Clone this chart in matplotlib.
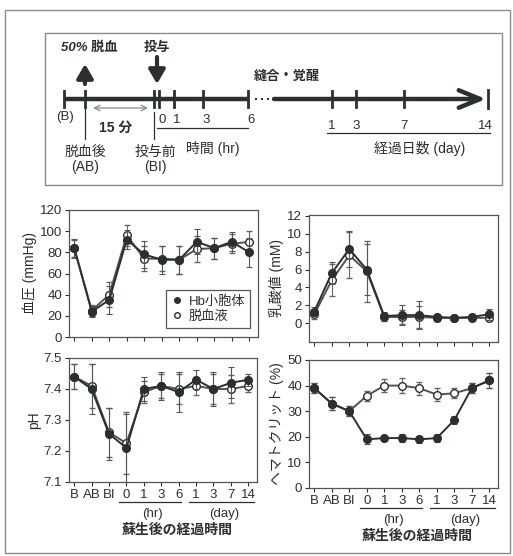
import matplotlib
matplotlib.use('Agg')
import matplotlib.pyplot as plt
from matplotlib.patches import Rectangle
from matplotlib.lines import Line2D
from matplotlib.transforms import blended_transform_factory, offset_copy
import numpy as np

plt.rcParams['font.family'] = ['Liberation Sans', 'Noto Sans CJK JP']
INK = '#2b302c'
LINE = '#4d5550'
GRID = '#8a8a8a'

# ---- 時系列データ ----
x_labels = ['B', 'AB', 'BI', '0', '1', '3', '6', '1', '3', '7', '14']
hr_idx = [3, 4, 5, 6]
day_idx = [7, 8, 9, 10]

bp_hb = [84, 24, 35, 92, 78, 73, 73, 90, 84, 90, 80]
bp_hb_err = [9, 5, 13, 9, 13, 13, 13, 12, 10, 9, 14]
bp_ctl = [84, 25, 40, 96, 74, 74, 73, 83, 84, 88, 90]
bp_ctl_err = [8, 5, 12, 10, 12, 12, 13, 12, 10, 9, 10]

lac_hb = [1.3, 5.6, 8.3, 6.0, 0.8, 0.9, 0.9, 0.7, 0.6, 0.7, 1.0]
lac_hb_err = [0.5, 1.2, 2.0, 2.9, 0.4, 1.1, 1.6, 0.3, 0.2, 0.3, 0.6]
lac_ctl = [1.0, 4.8, 7.6, 5.8, 0.7, 0.7, 0.7, 0.6, 0.6, 0.6, 0.6]
lac_ctl_err = [0.5, 1.8, 2.6, 3.4, 0.4, 0.8, 1.2, 0.3, 0.2, 0.3, 0.4]

ph_hb = [7.44, 7.40, 7.255, 7.21, 7.40, 7.41, 7.39, 7.43, 7.40, 7.42, 7.43]
ph_hb_err = [0.04, 0.08, 0.085, 0.11, 0.04, 0.045, 0.065, 0.03, 0.055, 0.05, 0.02]
ph_ctl = [7.44, 7.41, 7.26, 7.225, 7.39, 7.41, 7.40, 7.41, 7.40, 7.40, 7.41]
ph_ctl_err = [0.04, 0.07, 0.08, 0.10, 0.035, 0.04, 0.05, 0.03, 0.05, 0.045, 0.02]

hct_hb = [39, 33, 30, 19, 19.5, 19.5, 19, 19.5, 26.5, 39, 42]
hct_hb_err = [2, 2.5, 2, 2, 1, 1.5, 1.5, 1.5, 1.5, 2, 3]
hct_ctl = [39, 33, 30, 36, 40, 40, 39, 36.5, 37, 39, 42]
hct_ctl_err = [2, 2.5, 2, 2, 2.5, 3, 2.5, 2.5, 2, 2, 3]

# ---- タイムライン ----
tl_hr = [0, 1, 3, 6]
tl_day = [1, 3, 7, 14]

W, H = 513, 556
fig = plt.figure(figsize=(W / 100, H / 100), dpi=100, facecolor='white')

# 背景用（ピクセル座標）
bg = fig.add_axes([0, 0, 1, 1])
bg.set_xlim(0, W); bg.set_ylim(H, 0); bg.axis('off')
bg.add_patch(Rectangle((5, 10), 505, 543, fill=False, ec=GRID, lw=1.0))
bg.add_patch(Rectangle((45, 33), 457, 152, fill=False, ec=GRID, lw=1.0))

TY = 99
def hr_x(h):
    return 159 + 14.8 * h
def day_x(d):
    return 332 + 12.0 * (d - 1)

x_B, x_AB, x_BI = 64, 85, 154
x_end = day_x(tl_day[-1])

bg.plot([x_B, hr_x(6) + 1], [TY, TY], color=INK, lw=3.2, solid_capstyle='butt')
for dx in [256, 262, 268]:
    bg.plot(dx, TY, 's', color=INK, ms=2.0, mew=0)
bg.annotate('', xy=(x_end - 2, TY), xytext=(274, TY),
            arrowprops=dict(arrowstyle='->,head_length=1.1,head_width=0.45',
                            lw=3.2, color=INK, mutation_scale=14, shrinkA=0, shrinkB=0))
for tx in [x_B, x_AB, x_BI] + [hr_x(h) for h in tl_hr] + [day_x(d) for d in tl_day[:-1]]:
    bg.plot([tx, tx], [TY - 8, TY + 8], color=INK, lw=2.0)
bg.plot([x_end, x_end], [TY - 9, TY + 9], color=INK, lw=2.0)

# 矢印（脱血・投与）
bg.annotate('', xy=(x_AB, 64), xytext=(x_AB, 84),
            arrowprops=dict(arrowstyle='-|>,head_length=0.6,head_width=0.35',
                            lw=3, color=INK, mutation_scale=14, shrinkA=0, shrinkB=0))
bg.annotate('', xy=(157, 84), xytext=(157, 57),
            arrowprops=dict(arrowstyle='-|>,head_length=0.6,head_width=0.35',
                            lw=3, color=INK, mutation_scale=14, shrinkA=0, shrinkB=0))
bg.text(61, 48, '50% 脱血', fontsize=9.5, fontweight='bold', style='italic',
        color=INK, ha='left', va='center')
bg.text(157, 48, '投与', fontsize=9.5, fontweight='bold', style='italic',
        color=INK, ha='center', va='center')
bg.text(287, 77, '縫合・覚醒', fontsize=9.5, fontweight='bold', style='italic',
        color=INK, ha='center', va='center')

bg.text(65, 117, '(B)', fontsize=9.5, color=INK, ha='center', va='center')
bg.plot([x_AB, x_AB], [108, 139], color=INK, lw=0.9)
bg.plot([x_BI, x_BI], [112, 139], color=INK, lw=0.9)
bg.annotate('', xy=(93, 108), xytext=(148, 108),
            arrowprops=dict(arrowstyle='<->', lw=0.9, color=GRID,
                            shrinkA=0, shrinkB=0))
bg.text(116, 128, '15 分', fontsize=10, fontweight='bold', color=INK,
        ha='center', va='center')
bg.text(x_AB, 152, '脱血後', fontsize=10, color=INK, ha='center', va='center')
bg.text(x_AB, 167, '(AB)', fontsize=10, color=INK, ha='center', va='center')
bg.text(x_BI + 1, 152, '投与前', fontsize=10, color=INK, ha='center', va='center')
bg.text(x_BI + 1, 167, '(BI)', fontsize=10, color=INK, ha='center', va='center')

for h in tl_hr:
    bg.text(hr_x(h) + 3, 120, str(h), fontsize=9.5, color=INK, ha='center', va='center')
bg.plot([157, hr_x(6)], [128, 128], color=INK, lw=0.9)
bg.text(213, 148, '時間 (hr)', fontsize=10, color=INK, ha='center', va='center')
for d in tl_day:
    bg.text(day_x(d) - (3 if d == 14 else 0), 126, str(d), fontsize=9.5,
            color=INK, ha='center', va='center')
bg.plot([327, 490], [133, 133], color=INK, lw=0.9)
bg.text(420, 148, '経過日数 (day)', fontsize=10, color=INK, ha='center', va='center')


# ---- グラフパネル ----
def panel(rect, hb, hb_err, ctl, ctl_err, ylim, yticks, ylabel, fmt, bottom=False):
    ax = fig.add_axes(rect)
    x = np.arange(len(x_labels))
    ax.errorbar(x, ctl, yerr=ctl_err, fmt='-o', color=LINE, lw=1.4, ms=5.5,
                mfc='white', mec=INK, mew=1.0, ecolor='#666', elinewidth=0.8,
                capsize=2, capthick=0.8, zorder=2)
    ax.errorbar(x, hb, yerr=hb_err, fmt='-o', color=INK, lw=1.4, ms=5.5,
                mfc=INK, mec=INK, ecolor='#555', elinewidth=0.8,
                capsize=2, capthick=0.8, zorder=3)
    ax.set_xlim(-0.3, 10.5)
    ax.set_ylim(*ylim)
    ax.set_yticks(yticks)
    ax.set_yticklabels([fmt.format(v) for v in yticks])
    ax.set_xticks(x)
    ax.set_ylabel(ylabel, fontsize=10, color=INK, labelpad=2)
    ax.tick_params(direction='out', length=3, width=0.8, colors=INK,
                   labelsize=9.5, pad=2)
    for s in ax.spines.values():
        s.set_color('#555'); s.set_linewidth(0.9)
    if bottom:
        ax.set_xticklabels(x_labels)
        tr = blended_transform_factory(ax.transData, ax.transAxes)
        ul = offset_copy(tr, fig=fig, y=-20, units='dots')
        ax.plot([hr_idx[0] - 0.4, hr_idx[-1] + 0.15], [0, 0], transform=ul,
                color=INK, lw=0.9, clip_on=False)
        ax.plot([day_idx[0] - 0.4, day_idx[-1] + 0.3], [0, 0], transform=ul,
                color=INK, lw=0.9, clip_on=False)
        pt = offset_copy(tr, fig=fig, y=-32, units='dots')
        ax.text(np.mean(hr_idx), 0, '(hr)', transform=pt, fontsize=9.5,
                color=INK, ha='center', va='center')
        ax.text(8.6, 0, '(day)', transform=pt, fontsize=9.5,
                color=INK, ha='center', va='center')
        lt = offset_copy(tr, fig=fig, y=-48, units='dots')
        ax.text(5.9, 0, '蘇生後の経過時間', transform=lt, fontsize=10,
                fontweight='bold', color=INK, ha='center', va='center')
    else:
        ax.set_xticklabels([])
    return ax


ax_bp = panel([69 / W, 1 - 337 / H, 189 / W, 127 / H], bp_hb, bp_hb_err, bp_ctl,
              bp_ctl_err, (0, 120), [0, 20, 40, 60, 80, 100, 120], '血圧 (mmHg)', '{:.0f}')
ax_lac = panel([309 / W, 1 - 342 / H, 189 / W, 127 / H], lac_hb, lac_hb_err, lac_ctl,
               lac_ctl_err, (-2.1, 12.1), [0, 2, 4, 6, 8, 10, 12], '乳酸値 (mM)', '{:.0f}')
ax_ph = panel([69 / W, 1 - 482 / H, 188 / W, 124 / H], ph_hb, ph_hb_err, ph_ctl,
              ph_ctl_err, (7.1, 7.5), [7.1, 7.2, 7.3, 7.4, 7.5], 'pH', '{:.1f}', bottom=True)
ax_hct = panel([309 / W, 1 - 488 / H, 189 / W, 128 / H], hct_hb, hct_hb_err, hct_ctl,
               hct_ctl_err, (0, 50), [0, 10, 20, 30, 40, 50], 'ヘマトクリット (%)', '{:.0f}',
               bottom=True)

handles = [Line2D([], [], marker='o', ls='none', color=INK, ms=4),
           Line2D([], [], marker='o', ls='none', mfc='white', mec=INK, ms=4)]
leg = ax_bp.legend(handles, ['Hb小胞体', '脱血液'], loc='lower right',
                   bbox_to_anchor=(0.96, 0.07), borderaxespad=0, fontsize=9.5,
                   frameon=True, fancybox=False, handlelength=0.8, handletextpad=0.5,
                   borderpad=0.4, labelspacing=0.2)
leg.get_frame().set_edgecolor(INK)
leg.get_frame().set_linewidth(0.9)
for t in leg.get_texts():
    t.set_color(INK)

fig.savefig('out.png', dpi=100, facecolor='white')
